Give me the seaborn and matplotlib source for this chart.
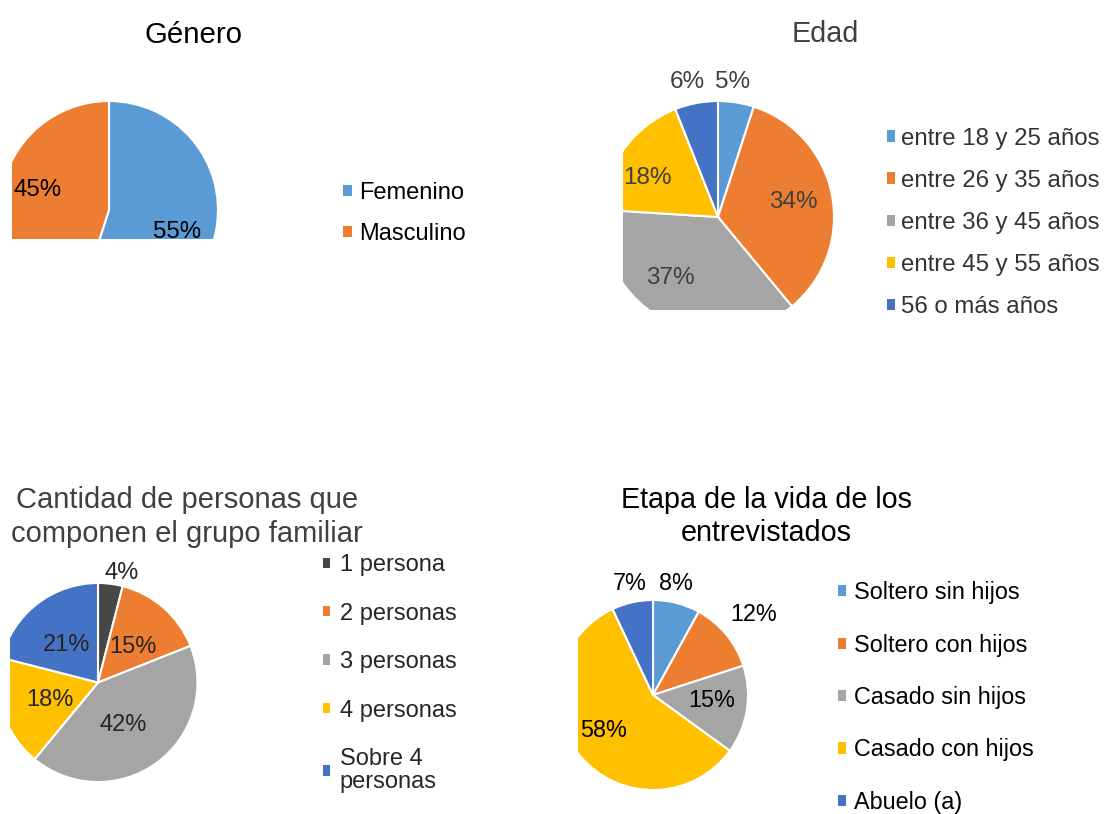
import numpy as np
import matplotlib
matplotlib.use("Agg")
import matplotlib.pyplot as plt
from matplotlib.patches import Patch, Rectangle
import seaborn as sns

# ---------------- data ----------------
genero_labels = ["Femenino", "Masculino"]
genero_values = [55, 45]

edad_labels = ["entre 18 y 25 años", "entre 26 y 35 años", "entre 36 y 45 años",
               "entre 45 y 55 años", "56 o más años"]
edad_values = [5, 34, 37, 18, 6]

grupo_labels = ["1 persona", "2 personas", "3 personas", "4 personas", "Sobre 4\npersonas"]
grupo_values = [4, 15, 42, 18, 21]

etapa_labels = ["Soltero sin hijos", "Soltero con hijos", "Casado sin hijos",
                "Casado con hijos", "Abuelo (a)"]
etapa_values = [8, 12, 15, 58, 7]

titles = ["Género", "Edad", "Cantidad de personas que\ncomponen el grupo familiar",
          "Etapa de la vida de los\nentrevistados"]

# ---------------- style ----------------
BLUE, ORANGE, GRAY, YELLOW, DBLUE, DGRAY = ("#5B9BD5", "#ED7D31", "#A5A5A5",
                                            "#FFC000", "#4472C4", "#474747")
sns.set_theme(style="white")
plt.rcParams["font.family"] = ["Liberation Sans", "DejaVu Sans"]

W, H = 1108, 814
fig = plt.figure(figsize=(W / 100, H / 100), dpi=100)
fig.patch.set_facecolor("white")


def px_axes(x0, y0, x1, y1):
    return fig.add_axes([x0 / W, 1 - y1 / H, (x1 - x0) / W, (y1 - y0) / H])


def draw_pie(values, colors, center, r, box, ldist, loff, fs, tcolor):
    cx, cy = center
    x0, y0, x1, y1 = box
    ax = px_axes(x0, y0, x1, y1)
    wedges, _, autotexts = ax.pie(
        values, colors=colors, startangle=90, counterclock=False, radius=r,
        autopct=lambda p: f"{p:.0f}%",
        wedgeprops=dict(edgecolor="white", linewidth=1.5),
        textprops=dict(fontsize=fs, color=tcolor))
    for w in wedges:
        w.set_clip_path(ax.patch)
        w.set_clip_on(True)
    for w, t, d, off in zip(wedges, autotexts, ldist, loff):
        ang = np.deg2rad((w.theta1 + w.theta2) / 2 + off)
        t.set_position((r * d * np.cos(ang), r * d * np.sin(ang)))
        t.set_clip_path(ax.patch)
        t.set_clip_on(True)
    ax.set_xlim(x0 - cx, x1 - cx)
    ax.set_ylim(cy - y1, cy - y0)
    ax.set_aspect("auto")
    ax.axis("off")
    return ax


def draw_legend(labels, colors, x, y, fs, spacing, hsize, pad, tcolor, lsp=1.0):
    handles = [Patch(facecolor=c, edgecolor="none") for c in colors]
    leg = fig.legend(handles, labels, loc="upper left",
                     bbox_to_anchor=(x / W, 1 - y / H), bbox_transform=fig.transFigure,
                     frameon=False, borderpad=0, borderaxespad=0, fontsize=fs,
                     handlelength=hsize, handleheight=hsize, handletextpad=pad,
                     labelspacing=spacing)
    for t in leg.get_texts():
        t.set_color(tcolor)
        t.set_linespacing(lsp)
    return leg


def white_out(x0, y0, x1, y1):
    fig.add_artist(Rectangle((x0 / W, 1 - y1 / H), (x1 - x0) / W, (y1 - y0) / H,
                             transform=fig.transFigure, facecolor="white",
                             edgecolor="none", zorder=20))


# ---------------- chart 1: Género ----------------
draw_pie(genero_values, [BLUE, ORANGE], (109, 210), 109, (12, 60, 235, 239),
         [0.66, 0.68], [-9, -7], 17.3, "black")
fig.text(193 / W, 1 - 43 / H, titles[0], ha="center", va="baseline",
         fontsize=21.2, color="black")
draw_legend(genero_labels, [BLUE, ORANGE], 343, 181.7, 17, 0.805, 0.36, 0.34, "black")
white_out(330, 240, 560, 300)

# ---------------- chart 2: Edad ----------------
draw_pie(edad_values, [BLUE, ORANGE, GRAY, YELLOW, DBLUE], (718, 217), 116,
         (623, 55, 860, 310), [1.17, 0.66, 0.67, 0.70, 1.19], [2.7, 0.5, -11, 7, 2],
         17.5, "#404040")
fig.text(825 / W, 1 - 42 / H, titles[1], ha="center", va="baseline",
         fontsize=20.7, color="#404040")
draw_legend(edad_labels, [BLUE, ORANGE, GRAY, YELLOW, DBLUE], 887, 127.5, 17.3, 0.84,
            0.35, 0.25, "#333333")
white_out(870, 313, 1108, 360)

# ---------------- chart 3: grupo familiar ----------------
draw_pie(grupo_values, [DGRAY, ORANGE, GRAY, YELLOW, DBLUE], (98, 682.5), 99.5,
         (10, 555, 235, 805), [1.13, 0.50, 0.50, 0.51, 0.49], [-5, -3, -5.5, 2, 2],
         17, "#262626")
fig.text(187 / W, 1 - 541.6 / H, titles[2], ha="center", va="baseline",
         fontsize=21, color="#404040", linespacing=1.24)
draw_legend(grupo_labels, [DGRAY, ORANGE, GRAY, YELLOW, DBLUE], 323, 554.3, 17, 1.12,
            0.3, 0.4, "#262626", lsp=1.07)

# ---------------- chart 4: etapa de la vida ----------------
draw_pie(etapa_values, [BLUE, ORANGE, GRAY, YELLOW, DBLUE], (653, 695), 95,
         (578, 560, 800, 814), [1.20, 1.35, 0.62, 0.64, 1.20], [3, -1, 4, -4, -1],
         16.8, "black")
fig.text(766 / W, 1 - 540.8 / H, titles[3], ha="center", va="baseline",
         fontsize=20.7, color="black", linespacing=1.22)
draw_legend(etapa_labels, [BLUE, ORANGE, GRAY, YELLOW, DBLUE], 838, 581.2, 16.8, 1.26,
            0.36, 0.33, "black")

fig.savefig("out.png", dpi=100, facecolor="white")
